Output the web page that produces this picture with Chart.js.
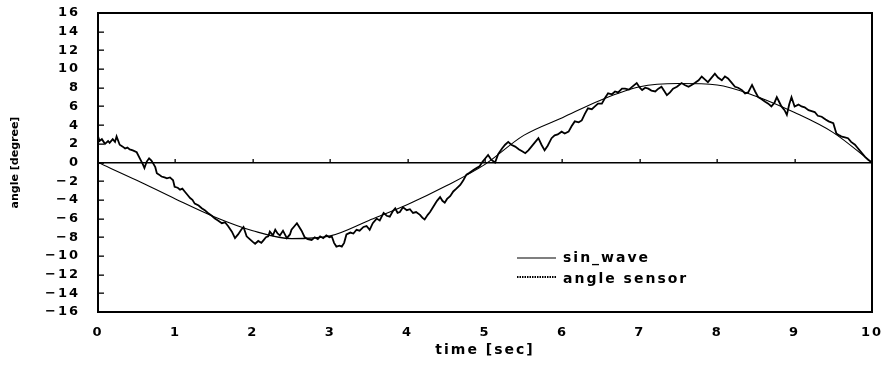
<!DOCTYPE html>
<html>
<head>
<meta charset="utf-8">
<script src="https://cdn.jsdelivr.net/npm/chart.js@4/dist/chart.umd.min.js"></script>
<style>
  html, body { margin: 0; padding: 0; background: #ffffff; }
</style>
</head>
<body>
<canvas id="c" width="890" height="367"></canvas>
<script>
// ---- Data ----
const xTickValues = [0, 1, 2, 3, 4, 5, 6, 7, 8, 9, 10];
const yTickValues = [-16, -14, -12, -10, -8, -6, -4, -2, 0, 2, 4, 6, 8, 10, 12, 14, 16];

const sinLabel = "sin_wave";
const sinX = [0, 0.5, 1, 1.5, 2, 2.5, 3, 3.5, 4, 4.5, 5, 5.5, 6, 6.5, 7, 7.5, 8, 8.5, 9, 9.5, 10];
const sinY = [0, -1.9, -3.9, -5.8, -7.3, -8.15, -7.85, -6.2, -4.5, -2.5, -0.2, 2.9, 4.8, 6.7, 8.1, 8.45, 8.3, 7.1, 5.35, 3.2, 0];

const sensorLabel = "angle sensor";
const sensorX = [
  0.00,0.02,0.05,0.09,0.13,0.15,0.19,0.22,0.24,0.28,0.32,0.35,0.38,0.41,0.45,0.50,0.54,0.58,0.60,0.63,
  0.66,0.69,0.72,0.74,0.76,0.79,0.82,0.86,0.89,0.93,0.97,0.99,1.03,1.06,1.09,1.12,1.16,1.19,1.22,1.25,
  1.30,1.34,1.38,1.42,1.47,1.51,1.55,1.60,1.64,1.68,1.73,1.77,1.81,1.85,1.88,1.92,1.96,2.00,2.03,2.07,
  2.11,2.14,2.17,2.20,2.22,2.26,2.29,2.32,2.35,2.39,2.44,2.48,2.50,2.54,2.57,2.60,2.63,2.67,2.71,2.76,
  2.80,2.84,2.87,2.91,2.95,2.99,3.02,3.05,3.08,3.12,3.15,3.18,3.21,3.26,3.30,3.34,3.38,3.43,3.47,3.51,
  3.55,3.60,3.64,3.69,3.73,3.77,3.81,3.84,3.87,3.90,3.94,3.99,4.03,4.07,4.11,4.16,4.19,4.22,4.26,4.29,
  4.32,4.35,4.38,4.42,4.45,4.48,4.51,4.55,4.59,4.63,4.68,4.72,4.76,4.80,4.85,4.89,4.93,4.97,5.00,5.04,
  5.08,5.13,5.17,5.22,5.26,5.30,5.34,5.39,5.44,5.48,5.52,5.56,5.60,5.65,5.69,5.73,5.77,5.81,5.86,5.90,
  5.94,5.99,6.03,6.08,6.12,6.16,6.21,6.25,6.29,6.33,6.38,6.42,6.46,6.51,6.55,6.59,6.64,6.68,6.72,6.77,
  6.81,6.86,6.90,6.96,7.00,7.03,7.07,7.11,7.15,7.20,7.24,7.28,7.32,7.35,7.39,7.43,7.48,7.54,7.58,7.63,
  7.67,7.71,7.76,7.80,7.84,7.88,7.92,7.97,8.01,8.06,8.10,8.14,8.18,8.23,8.27,8.32,8.36,8.40,8.45,8.49,
  8.53,8.57,8.62,8.66,8.70,8.74,8.77,8.80,8.83,8.87,8.90,8.93,8.96,9.00,9.05,9.09,9.13,9.18,9.22,9.26,
  9.30,9.35,9.40,9.44,9.50,9.54,9.58,9.61,9.65,9.69,9.73,9.78,9.81,9.84,9.88,9.91,9.95,10.00
];
const sensorY = [
  2.8,2.3,2.5,2.0,2.3,2.1,2.5,2.2,2.8,1.9,1.7,1.5,1.6,1.4,1.3,1.1,0.45,-0.2,-0.6,0.1,
  0.45,0.2,-0.2,-0.5,-1.15,-1.3,-1.5,-1.6,-1.7,-1.6,-1.9,-2.6,-2.7,-2.9,-2.8,-3.1,-3.5,-3.8,-4.0,-4.4,
  -4.6,-4.9,-5.1,-5.4,-5.7,-6.0,-6.2,-6.5,-6.4,-6.8,-7.4,-8.1,-7.7,-7.2,-6.9,-7.9,-8.2,-8.5,-8.7,-8.4,
  -8.6,-8.3,-8.0,-7.9,-7.4,-7.8,-7.2,-7.6,-7.8,-7.3,-8.1,-7.7,-7.2,-6.8,-6.5,-6.9,-7.3,-8.0,-8.2,-8.3,
  -8.0,-8.2,-7.9,-8.1,-7.8,-8.0,-7.9,-8.6,-9.0,-8.9,-9.0,-8.6,-7.7,-7.5,-7.6,-7.2,-7.3,-6.9,-6.8,-7.2,
  -6.5,-6.0,-6.2,-5.4,-5.7,-5.8,-5.2,-4.9,-5.4,-5.3,-4.8,-5.1,-5.0,-5.4,-5.3,-5.6,-5.9,-6.1,-5.6,-5.3,
  -4.9,-4.5,-4.1,-3.7,-4.1,-4.3,-3.9,-3.6,-3.1,-2.8,-2.4,-1.9,-1.3,-1.1,-0.8,-0.6,-0.4,0.1,0.4,0.8,
  0.3,0.0,0.9,1.5,1.9,2.2,1.9,1.7,1.4,1.2,1.0,1.3,1.7,2.2,2.6,1.9,1.3,1.8,2.6,2.9,
  3.0,3.3,3.1,3.3,3.9,4.4,4.3,4.5,5.2,5.8,5.7,6.0,6.3,6.3,6.9,7.4,7.3,7.6,7.5,7.9,
  7.9,7.8,8.1,8.5,8.0,7.75,8.0,7.9,7.7,7.6,7.9,8.1,7.6,7.2,7.5,7.9,8.1,8.5,8.3,8.1,
  8.3,8.5,8.8,9.2,8.9,8.6,9.0,9.5,9.1,8.8,9.2,9.0,8.6,8.1,8.0,7.75,7.4,7.5,8.3,7.6,
  7.0,6.8,6.5,6.3,6.0,6.4,7.0,6.5,6.0,5.6,5.1,6.2,7.0,6.0,6.2,6.0,5.9,5.6,5.5,5.4,
  5.0,4.9,4.6,4.4,4.2,3.1,2.9,2.76,2.7,2.6,2.2,1.9,1.6,1.3,0.9,0.6,0.3,0.0
];

// ---- Build datasets ----
const nSensor = Math.min(sensorX.length, sensorY.length);
const sinData = sinX.map((x, i) => ({ x: x, y: sinY[i] }));
const sensorData = sensorX.slice(0, nSensor).map((x, i) => ({ x: x, y: sensorY[i] }));

const FONT = "'DejaVu Sans', 'Liberation Sans', sans-serif";
const SPACING = '2px';

function setSpacing(chart) {
  try { chart.ctx.letterSpacing = SPACING; } catch (e) {}
}

// frame and small tick marks drawn as filled rectangles, positioned by the chart's scales
function drawFrame(chart) {
  const ctx = chart.ctx;
  const a = chart.chartArea;
  const xs = chart.scales.x, ys = chart.scales.y;
  const L = Math.round(a.left), R = Math.round(a.right), T = Math.round(a.top), B = Math.round(a.bottom);
  ctx.save();
  ctx.globalAlpha = 1;
  ctx.globalCompositeOperation = 'source-over';
  ctx.fillStyle = '#000000';
  ctx.fillRect(L - 1, T - 1, R - L + 2, 2);      // top
  ctx.fillRect(R - 1, T - 1, 2, B - T + 2);      // right
  ctx.fillRect(L - 1, B - 1, R - L + 2, 2);      // bottom
  ctx.fillRect(L - 1, T - 1, 2, B - T + 2);      // left
  yTickValues.forEach(function (v) {
    const py = Math.round(ys.getPixelForValue(v));
    ctx.fillRect(L, py - 0.5, 6, 1.3);
  });
  const y0 = Math.round(ys.getPixelForValue(0));
  for (let i = 1; i < xTickValues.length - 1; i++) {
    const px = Math.round(xs.getPixelForValue(xTickValues[i]));
    ctx.fillRect(px - 0.5, y0 - 4, 1.3, 4);
  }
  ctx.restore();
}

function drawLegend(chart) {
  const ctx = chart.ctx;
  const a = chart.chartArea;
  const lx0 = a.left + 419, lx1 = a.left + 458, tx = a.left + 465;
  const ly1 = a.top + 245, ly2 = a.top + 264;
  ctx.save();
  ctx.setLineDash([]);
  ctx.strokeStyle = '#000';
  ctx.lineWidth = 1.1;
  ctx.beginPath();
  ctx.moveTo(lx0, ly1); ctx.lineTo(lx1, ly1);
  ctx.stroke();
  ctx.lineWidth = 2;
  ctx.setLineDash([1.5, 1]);
  ctx.beginPath();
  ctx.moveTo(lx0, ly2); ctx.lineTo(lx1, ly2);
  ctx.stroke();
  ctx.setLineDash([]);
  ctx.fillStyle = '#000';
  ctx.font = "bold 14px " + FONT;
  ctx.letterSpacing = SPACING;
  ctx.textAlign = 'left';
  ctx.textBaseline = 'middle';
  ctx.fillText(chart.data.datasets[0].label, tx, ly1);
  ctx.fillText(chart.data.datasets[1].label, tx, ly2 + 2);
  ctx.restore();
}

const decor = {
  id: 'decor',
  beforeInit: setSpacing,
  beforeUpdate: setSpacing,
  beforeLayout: setSpacing,
  beforeDraw(chart) {
    setSpacing(chart);
    const ctx = chart.ctx;
    ctx.save();
    ctx.fillStyle = '#ffffff';
    ctx.fillRect(0, 0, chart.width, chart.height);
    ctx.restore();
  },
  afterLayout(chart) {
    const ys = chart.scales.y;
    if (ys && !ys._titleWrapped) {
      const orig = ys.drawTitle;
      ys.drawTitle = function () {
        const ctx = this.ctx;
        const prev = ctx.letterSpacing;
        ctx.letterSpacing = '0px';
        orig.apply(this, arguments);
        ctx.letterSpacing = prev;
      };
      ys._titleWrapped = true;
    }
  },
  afterDraw(chart) {
    drawLegend(chart);
    drawFrame(chart);
  }
};

new Chart(document.getElementById('c'), {
  type: 'line',
  data: {
    datasets: [
      {
        label: sinLabel,
        data: sinData,
        borderColor: '#000',
        borderWidth: 1.1,
        pointRadius: 0,
        cubicInterpolationMode: 'monotone',
        fill: false
      },
      {
        label: sensorLabel,
        data: sensorData,
        borderColor: '#000',
        borderWidth: 1.8,
        pointRadius: 0,
        tension: 0,
        fill: false
      }
    ]
  },
  options: {
    responsive: false,
    animation: false,
    devicePixelRatio: 1,
    layout: { padding: { top: 13, right: 18, left: 0, bottom: 0 } },
    plugins: {
      legend: { display: false },
      tooltip: { enabled: false }
    },
    scales: {
      x: {
        type: 'linear',
        min: xTickValues[0],
        max: xTickValues[xTickValues.length - 1],
        afterBuildTicks: (s) => { s.ticks = xTickValues.map(v => ({ value: v })); },
        afterFit: (s) => { s.height = 55; s.paddingLeft = 0; s.paddingRight = 0; },
        ticks: {
          color: '#000',
          font: { family: FONT, size: 13, weight: 'bold' },
          padding: 13,
          maxRotation: 0,
          autoSkip: false
        },
        grid: { display: false, drawTicks: false },
        border: { display: true, color: '#000', width: 1.6 },
        title: {
          display: true,
          text: 'time [sec]',
          color: '#000',
          font: { family: FONT, size: 14, weight: 'bold' },
          padding: { top: 0, bottom: 8 }
        }
      },
      y: {
        type: 'linear',
        min: yTickValues[0],
        max: yTickValues[yTickValues.length - 1],
        afterBuildTicks: (s) => { s.ticks = yTickValues.map(v => ({ value: v })); },
        afterFit: (s) => { s.width = 98; s.paddingTop = 0; s.paddingBottom = 0; },
        ticks: {
          color: '#000',
          font: { family: FONT, size: 13, weight: 'bold' },
          padding: 18,
          autoSkip: false,
          callback: (v) => String(v).replace('-', '\u2212')
        },
        grid: {
          drawTicks: false,
          color: (c) => (c.tick && c.tick.value === 0 ? '#000' : 'rgba(0,0,0,0)'),
          lineWidth: (c) => (c.tick && c.tick.value === 0 ? 1.4 : 0)
        },
        border: { display: true, color: '#000', width: 1.6 },
        title: {
          display: true,
          text: 'angle [degree]',
          color: '#000',
          font: { family: FONT, size: 11, weight: 'bold' },
          padding: { top: 9, bottom: 0 }
        }
      }
    }
  },
  plugins: [decor]
});
</script>
</body>
</html>
